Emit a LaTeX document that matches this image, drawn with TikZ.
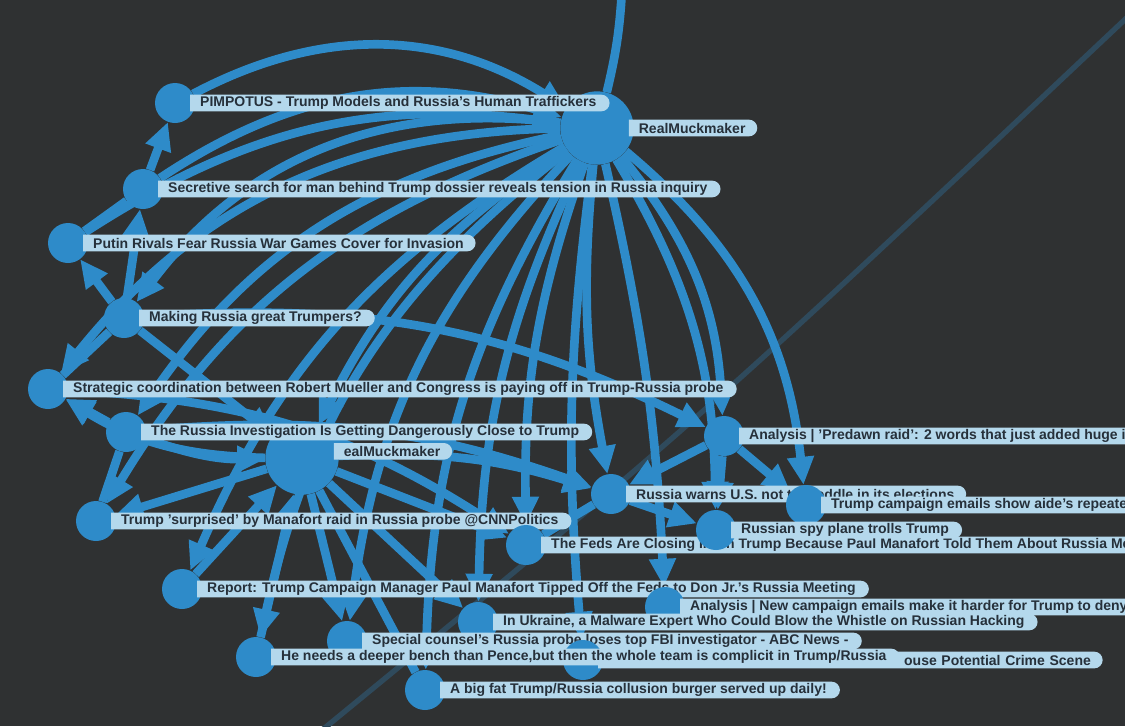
\documentclass[tikz,border=0pt]{standalone}
\usepackage{fontspec}
\setmainfont{Liberation Sans}
\usepackage{tikz}
\usetikzlibrary{arrows.meta,backgrounds}
\usetikzlibrary{shapes.misc,positioning}
\definecolor{bgc}{RGB}{47,49,50}
\definecolor{edgec}{RGB}{46,139,201}
\definecolor{lblc}{RGB}{180,216,236}
\definecolor{txtc}{RGB}{38,48,58}

\begin{document}
\begin{tikzpicture}[x=0.75pt,y=-0.75pt,->,>={Triangle[length=21pt,width=19pt]}]
    \tikzstyle{art}=[circle, fill=edgec, minimum size=30pt, inner sep=0pt]
    \tikzstyle{hub}=[art, minimum size=55pt]
    \tikzstyle{lbl}=[rounded rectangle, rounded rectangle left arc=none, fill=lblc, text=txtc,
        font=\fontsize{10.5}{11}\selectfont\bfseries, minimum height=12.5pt, inner ysep=0pt, inner xsep=7.5pt]
    \tikzstyle{every edge}=[draw=edgec, line width=6.5pt]

    \useasboundingbox (0,0) rectangle (1125,726);
    \begin{scope}[on background layer]
      \fill[bgc] (0,0) rectangle (1125,726);
    \end{scope}

    % article nodes and their labels
    \node[hub] (hubR) at (597,128) {};
    \node[lbl, right=-4pt of hubR] (hubRL) {RealMuckmaker};
    \node[art] (pimp) at (175,103) {};
    \node[lbl, right=-4pt of pimp] (pimpL) {PIMPOTUS - Trump Models and Russia's Human Traffickers};
    \node[art] (secr) at (143,189) {};
    \node[lbl, right=-4pt of secr] (secrL) {Secretive search for man behind Trump dossier reveals tension in Russia inquiry};
    \node[art] (putin) at (68,243) {};
    \node[lbl, right=-4pt of putin] (putinL) {Putin Rivals Fear Russia War Games Cover for Invasion};
    \node[art] (making) at (124,318) {};
    \node[lbl, right=-4pt of making] (makingL) {Making Russia great Trumpers?};
    \node[art] (strat) at (48,389) {};
    \node[lbl, right=-4pt of strat] (stratL) {Strategic coordination between Robert Mueller and Congress is paying off in Trump-Russia probe};
    \node[hub] (hubE) at (302,458) {};
    \node[lbl, right=-4pt of hubE, yshift=5pt] (hubEL) {ealMuckmaker};
    \node[art] (invest) at (126,432) {};
    \node[lbl, right=-4pt of invest] (investL) {The Russia Investigation Is Getting Dangerously Close to Trump};
    \node[art] (surpr) at (96,521) {};
    \node[lbl, right=-4pt of surpr] (surprL) {Trump 'surprised' by Manafort raid in Russia probe @CNNPolitics};
    \node[art] (predawn) at (724,436) {};
    \node[lbl, right=-4pt of predawn] (predawnL) {Analysis | 'Predawn raid': 2 words that just added huge i};
    \node[art] (warns) at (611,494) {};
    \node[lbl, right=-4pt of warns] (warnsL) {Russia warns U.S. not to meddle in its elections};
    \node[art] (emails) at (806,505) {};
    \node[lbl, right=-4pt of emails] (emailsL) {Trump campaign emails show aide's repeated};
    \node[art] (feds) at (526,545) {};
    \node[lbl, right=-4pt of feds] (fedsL) {The Feds Are Closing In On Trump Because Paul Manafort Told Them About Russia Mee};
    \node[art] (spy) at (716,530) {};
    \node[lbl, right=-4pt of spy] (spyL) {Russian spy plane trolls Trump};
    \node[art] (report) at (182,589) {};
    \node[lbl, right=-4pt of report] (reportL) {Report: Trump Campaign Manager Paul Manafort Tipped Off the Feds to Don Jr.'s Russia Meeting};
    \node[art] (newcamp) at (665,607) {};
    \node[lbl, right=-4pt of newcamp] (newcampL) {Analysis | New campaign emails make it harder for Trump to deny};
    \node[art] (ukraine) at (478,622) {};
    \node[lbl, right=-4pt of ukraine] (ukraineL) {In Ukraine, a Malware Expert Who Could Blow the Whistle on Russian Hacking};
    \node[art] (special) at (347,641) {};
    \node[lbl, right=-4pt of special] (specialL) {Special counsel's Russia probe loses top FBI investigator - ABC News -};
    \node[art] (crime) at (583,660) {};
    \node[lbl, right=-4pt of crime, text width=362pt, align=right] (crimeL) {ouse Potential Crime Scene};
    \node[art] (needs) at (256,657) {};
    \node[lbl, right=-4pt of needs] (needsL) {He needs a deeper bench than Pence,but then the whole team is complicit in Trump/Russia};
    \node[art] (burger) at (425,690) {};
    \node[lbl, right=-4pt of burger] (burgerL) {A big fat Trump/Russia collusion burger served up daily!};

    \coordinate (up) at (622,-10);
    \coordinate (ln1) at (310,740);
    \coordinate (ln2) at (1135,10);

    \begin{scope}[on background layer]
    \draw[-, draw=edgec!28!bgc, line width=4pt] (ln1) .. controls (700,420) .. (ln2);

    % fan of RealMuckmaker
    \path (pimp) edge[bend left=30] (hubR);
    \path (secr) edge[bend left=25] (hubR);
    \path (putin) edge[bend left=20] (hubR);
    \path (hubR) edge[bend right=30] (making);
    \path (hubR) edge[bend right=25] (strat);
    \path (hubR) edge[bend right=22] (invest);
    \path (hubR) edge[bend right=20] (surpr);
    \path (hubR) edge[bend right=18] (report);
    \path (hubR) edge[bend right=20] (needs);
    \path (hubR) edge[bend right=18] (special);
    \path (hubR) edge[bend right=15] (burger);
    \path (hubR) edge[bend right=12] (ukraine);
    \path (hubR) edge[bend right=10] (feds);
    \path (hubR) edge[bend right=8] (warns);
    \path (hubR) edge[bend right=6] (crime);
    \path (hubR) edge[bend left=5] (newcamp);
    \path (hubR) edge[bend left=15] (spy);
    \path (hubR) edge[bend left=18] (predawn);
    \path (hubR) edge[bend left=22] (emails);
    \path (hubR) edge[bend right=15] (hubE);
    \path (hubR) edge[-, bend right=5] (up);

    % left chain
    \path (secr) edge (pimp);
    \path (putin) edge[-] (secr);
    \path (making) edge (secr);
    \path (strat) edge[-] (making);
    \path (making) edge (putin);
    \path (invest) edge (strat);
    \path (surpr) edge[-] (invest);

    % second hub
    \path (hubE) edge (surpr);
    \path (report) edge (hubE);
    \path (needs) edge (hubE);
    \path (hubE) edge (special);
    \path (burger) edge[-] (hubE);
    \path (hubE) edge (ukraine);
    \path (hubE) edge (feds);
    \path (hubE) edge[bend left=10] (warns);
    \path (hubE) edge[bend left=15] (strat);
    \path (making) edge (hubE);
    \path (invest) edge[bend right=10] (hubE);

    % right cluster
    \path (predawn) edge (warns);
    \path (predawn) edge (spy);
    \path (predawn) edge (emails);
    \path (warns) edge (spy);
    \path (feds) edge[-] (warns);
    \path (strat) edge[bend left=15] (feds);
    \path (invest) edge[bend left=12] (warns);
    \path (making) edge[bend left=15] (predawn);
    \end{scope}

  \end{tikzpicture}
\end{document}
